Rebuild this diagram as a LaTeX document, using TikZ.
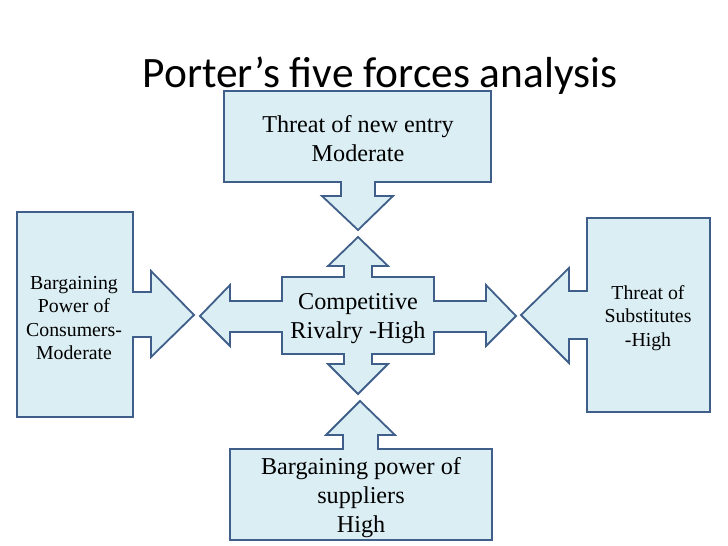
\documentclass[tikz,border=0pt]{standalone}
\usepackage{fontspec}
\setmainfont{Liberation Serif}
\newfontfamily\titlefont{Carlito}
\definecolor{boxfill}{HTML}{DBEEF4}
\definecolor{boxline}{HTML}{3F5F8A}
\tikzset{
  force/.style={draw=boxline, fill=boxfill, line width=1.8pt, line join=miter},
  bigtxt/.style={align=center, inner sep=0pt, font=\fontsize{24.2}{29}\selectfont},
  smalltxt/.style={align=center, inner sep=0pt, font=\fontsize{19.8}{23.3}\selectfont}
}
\begin{document}
\begin{tikzpicture}[x=1pt, y=-1pt]
\useasboundingbox[fill=white] (0,0) rectangle (728,546);
% title
\node[anchor=base, inner sep=0pt, font=\titlefont\fontsize{43.4}{48}\selectfont] (title) at (380,87) {Porter’s five forces analysis};
% top callout
\draw[force] (224,91) -- (491,91) -- (491,182) -- (375,182) -- (375,196) -- (393,196) -- (358,230) -- (322,196) -- (341,196) -- (341,182) -- (224,182) -- cycle;
% centre cross
\draw[force] (358,237) -- (388,266) -- (372,266) -- (372,277) -- (434,277) -- (434,301) -- (486,301) -- (486,285) -- (516,316) -- (486,346) -- (486,332) -- (434,332) -- (434,354) -- (372,354) -- (372,364) -- (388,364) -- (358,394) -- (328,364) -- (344,364) -- (344,354) -- (282,354) -- (282,332) -- (230,332) -- (230,346) -- (200,316) -- (230,285) -- (230,301) -- (282,301) -- (282,277) -- (344,277) -- (344,266) -- (328,266) -- cycle;
% left callout
\draw[force] (17,212) -- (133,212) -- (133,292) -- (151,292) -- (151,271) -- (194,315) -- (151,357) -- (151,337) -- (133,337) -- (133,417) -- (17,417) -- cycle;
% right callout
\draw[force] (710,218) -- (587,218) -- (587,291) -- (569,291) -- (569,268) -- (521,315) -- (569,363) -- (569,339) -- (587,339) -- (587,412) -- (710,412) -- cycle;
% bottom callout
\draw[force] (230,449) -- (343,449) -- (343,435) -- (326,435) -- (360,401) -- (395,435) -- (378,435) -- (378,449) -- (492,449) -- (492,540) -- (230,540) -- cycle;
% texts
\node[bigtxt] (entry) at (358,139) {Threat of new entry\\Moderate};
\node[bigtxt] (rivalry) at (358,319) {Competitive\\Rivalry -High};
\node[bigtxt] (suppliers) at (361,498) {Bargaining power of\\suppliers\\High};
\node[smalltxt] (consumers) at (74,318) {Bargaining\\Power of\\Consumers-\\Moderate};
\node[smalltxt] (substitutes) at (648,318) {Threat of\\Substitutes\\-High};
\end{tikzpicture}
\end{document}
